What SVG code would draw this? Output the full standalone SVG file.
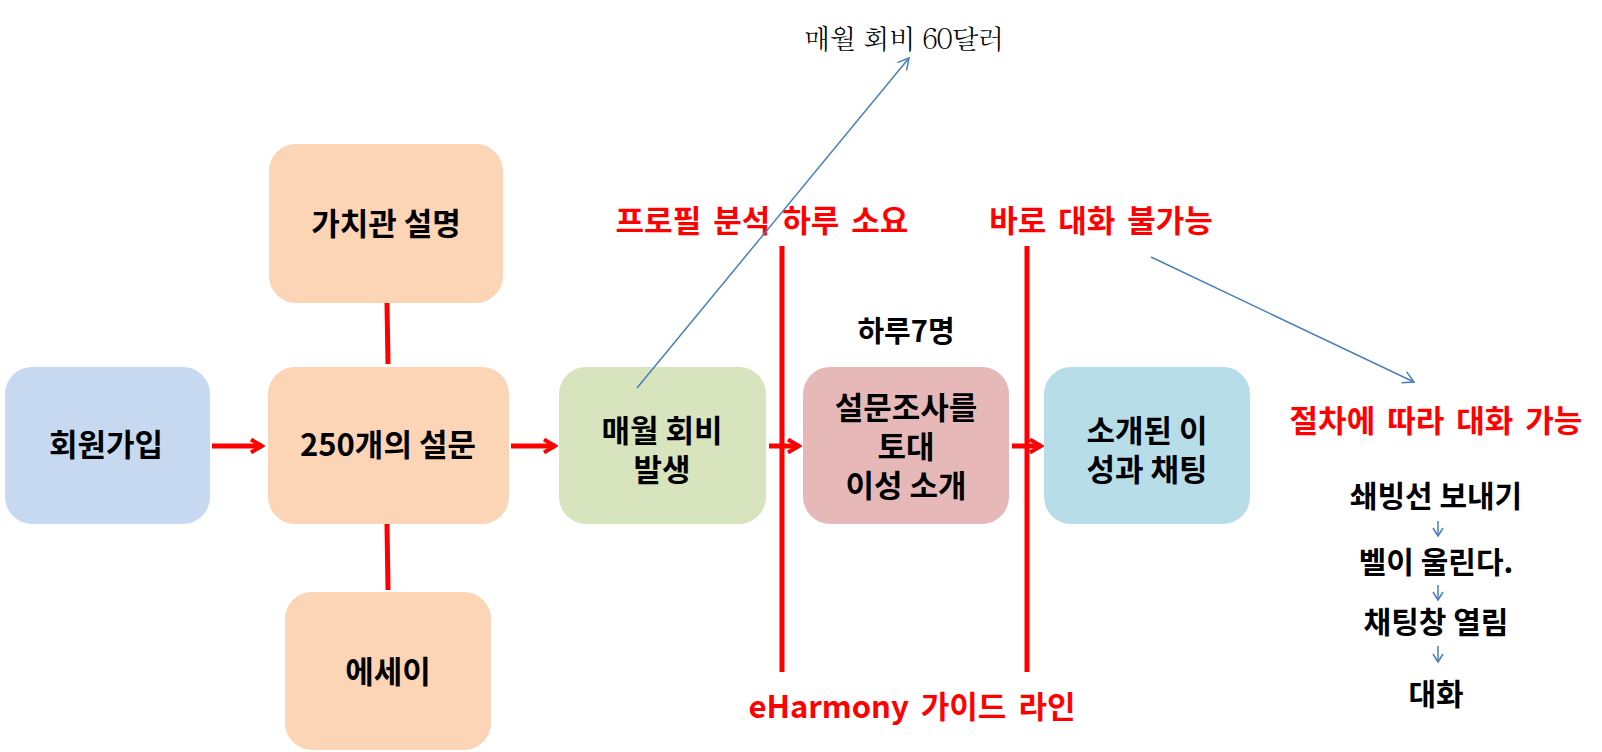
<svg xmlns="http://www.w3.org/2000/svg" width="1602" height="752" viewBox="0 0 1602 752">
<style>
.t{font-family:"Malgun Gothic","Noto Sans CJK KR","Noto Sans",sans-serif;font-weight:bold;text-anchor:middle}
.box{font-size:31px;fill:#000}
.red{font-size:31px;fill:#ff0000;word-spacing:5px}
.list{font-size:30px;fill:#000}
.ser{font-family:"Batang","Noto Serif CJK KR","Noto Sans CJK KR",serif;font-size:28px;fill:#000;text-anchor:middle;letter-spacing:-2px}
.rl{stroke:#ff0000;stroke-width:5;fill:none}
.ra{stroke:#ff0000;stroke-width:5;fill:none}
.bl{stroke:#4a7ebb;stroke-width:1.5;fill:none}
</style>
<defs>
<marker id="rh" viewBox="0 0 16 16" refX="13" refY="8" markerWidth="16" markerHeight="16" markerUnits="userSpaceOnUse" orient="auto">
<path d="M2,1.5 L13,8 L2,14.5" fill="none" stroke="#ff0000" stroke-width="4"/>
</marker>
<marker id="bh" viewBox="0 0 16 16" refX="14" refY="8" markerWidth="16" markerHeight="16" markerUnits="userSpaceOnUse" orient="auto">
<path d="M3,2 L14,8 L3,14" fill="none" stroke="#4a7ebb" stroke-width="1.5"/>
</marker>
<marker id="sh" viewBox="0 0 12 12" refX="10" refY="6" markerWidth="12" markerHeight="12" markerUnits="userSpaceOnUse" orient="auto">
<path d="M2,1 L10,6 L2,11" fill="none" stroke="#4a7ebb" stroke-width="1.5"/>
</marker>
</defs>
<rect width="1602" height="752" fill="#ffffff"/>

<g id="node-signup">
<rect x="5" y="367" width="205" height="157" rx="27" fill="#c6d9f1"/>
<text class="t box" x="106" y="456">회원가입</text>
</g>
<g id="node-values">
<rect x="269" y="144" width="234" height="159" rx="27" fill="#fbd5b5"/>
<text class="t box" x="386" y="235">가치관 설명</text>
</g>
<g id="node-survey">
<rect x="268" y="367" width="241" height="157" rx="27" fill="#fbd5b5"/>
<text class="t box" x="388" y="456">250개의 설문</text>
</g>
<g id="node-essay">
<rect x="285" y="592" width="206" height="158" rx="27" fill="#fbd5b5"/>
<text class="t box" x="388" y="683">에세이</text>
</g>
<g id="node-fee">
<rect x="559" y="367" width="207" height="157" rx="27" fill="#d7e4bd"/>
<text class="t box" x="662" y="442">매월 회비</text>
<text class="t box" x="662" y="481">발생</text>
</g>
<g id="node-match">
<rect x="803" y="367" width="206" height="157" rx="27" fill="#e6b9b8"/>
<text class="t box" x="906" y="419">설문조사를</text>
<text class="t box" x="906" y="458">토대</text>
<text class="t box" x="906" y="497">이성 소개</text>
</g>
<g id="node-chat">
<rect x="1044" y="367" width="206" height="157" rx="27" fill="#b7dee8"/>
<text class="t box" x="1147" y="442">소개된 이</text>
<text class="t box" x="1147" y="481">성과 채팅</text>
</g>

<g id="labels">
<text class="t red" x="762" y="232">프로필 분석 하루 소요</text>
<text class="t red" x="1101" y="232">바로 대화 불가능</text>
<text class="t red" x="912" y="718">eHarmony 가이드 라인</text>
<text class="t red" x="1436" y="432">절차에 따라 대화 가능</text>
<text class="t" style="font-size:29px" x="906" y="342">하루7명</text>
<text class="ser" x="903" y="49">매월 회비 60달러</text>
<text class="t list" x="1436" y="507">쇄빙선 보내기</text>
<text class="t list" x="1436" y="573">벨이 울린다.</text>
<text class="t list" x="1436" y="633">채팅창 열림</text>
<text class="t list" x="1436" y="705">대화</text>
</g>

<g id="connectors">
<line class="rl" x1="387" y1="303" x2="388" y2="364"/>
<line class="rl" x1="387" y1="524" x2="388" y2="590"/>
<line class="rl" x1="782" y1="246" x2="782" y2="672"/>
<line class="rl" x1="1027" y1="246" x2="1027" y2="672"/>
<line class="ra" x1="212" y1="446" x2="262" y2="446" marker-end="url(#rh)"/>
<line class="ra" x1="511" y1="446" x2="555" y2="446" marker-end="url(#rh)"/>
<line class="ra" x1="769" y1="446" x2="799" y2="446" marker-end="url(#rh)"/>
<line class="ra" x1="1012" y1="446" x2="1041" y2="446" marker-end="url(#rh)"/>
<line class="bl" x1="637" y1="388" x2="909" y2="58" marker-end="url(#bh)"/>
<line class="bl" x1="1151" y1="257" x2="1414" y2="382" marker-end="url(#bh)"/>
<line class="bl" x1="1438" y1="521" x2="1438" y2="536" marker-end="url(#sh)"/>
<line class="bl" x1="1438" y1="585" x2="1438" y2="600" marker-end="url(#sh)"/>
<line class="bl" x1="1438" y1="646" x2="1438" y2="662" marker-end="url(#sh)"/>
</g>
</svg>
